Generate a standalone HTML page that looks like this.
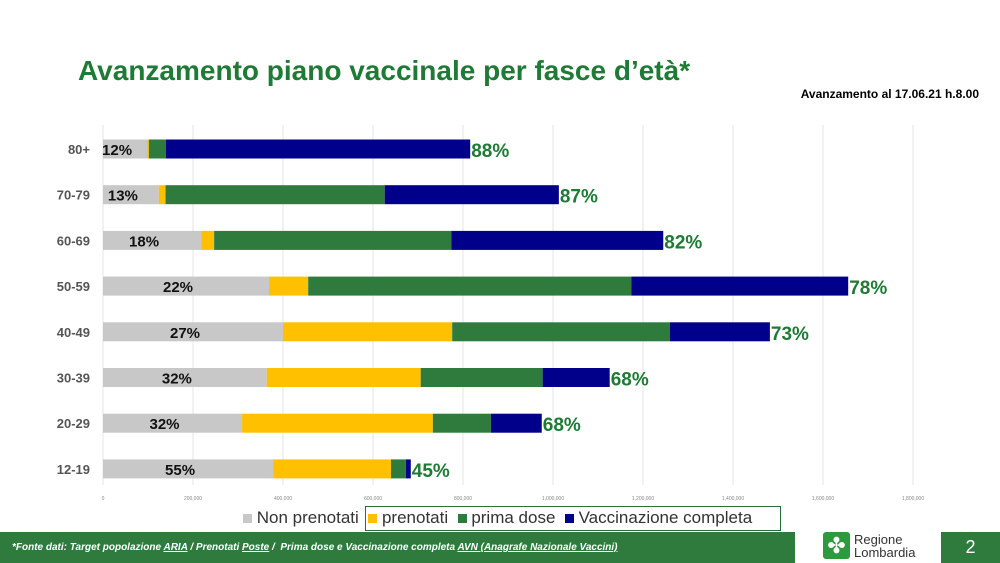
<!DOCTYPE html>
<html><head><meta charset="utf-8"><style>
body{margin:0;width:1000px;height:563px;background:#fff;font-family:"Liberation Sans",sans-serif;position:relative;overflow:hidden}
.a{position:absolute}
</style></head><body>
<div class="a" style="left:78px;top:55px;font-size:28px;font-weight:bold;color:#1e7a34">Avanzamento piano vaccinale per fasce d’età*</div>
<div class="a" style="right:21px;top:87px;font-size:12px;font-weight:bold;color:#000">Avanzamento al 17.06.21 h.8.00</div>
<svg class="a" style="left:0;top:0" width="1000" height="563" id="chart"></svg>
<div class="a" style="left:365px;top:506px;width:414px;height:23px;border:1px solid #2a6e3a"></div>
<div class="a" style="left:243px;top:508px;font-size:17px;color:#333;white-space:nowrap">
<span><span style="display:inline-block;width:9px;height:9px;background:#c8c8c8"></span> Non prenotati</span>&nbsp;
<span><span style="display:inline-block;width:9px;height:9px;background:#ffc000"></span> prenotati</span>&nbsp;
<span><span style="display:inline-block;width:9px;height:9px;background:#2e7b3d"></span> prima dose</span>&nbsp;
<span><span style="display:inline-block;width:9px;height:9px;background:#00008b"></span> Vaccinazione completa</span></div>
<div class="a" style="left:0;top:532px;width:795px;height:31px;background:#2e7b3d"></div>
<div class="a" style="left:12px;top:542px;font-size:10px;font-style:italic;font-weight:bold;color:#fff;white-space:nowrap">*Fonte dati: Target popolazione <u>ARIA</u> / Prenotati <u>Poste</u> /&nbsp; Prima dose e Vaccinazione completa <u>AVN (Anagrafe Nazionale Vaccini)</u></div>
<div class="a" style="left:823px;top:532px;width:27px;height:27px;background:#2e9a3e;border-radius:3px;color:#fff;font-size:22px;text-align:center;line-height:27px">✤</div>
<div class="a" style="left:854px;top:533px;font-size:13px;line-height:13px;color:#333">Regione<br>Lombardia</div>
<div class="a" style="left:941px;top:532px;width:59px;height:31px;background:#2e7b3d;color:#fff;font-size:18px;text-align:center;line-height:31px">2</div>
<script>
const categories=["80+","70-79","60-69","50-59","40-49","30-39","20-29","12-19"];
const nonPrenotati=[98000,124000,218000,369000,400000,364000,309000,378000];
const prenotati=[4000,15000,29000,87000,376000,342000,424000,262000];
const primaDose=[38000,487000,527000,718000,484000,271000,129000,33000];
const completa=[676000,387000,471000,482000,222000,149000,113000,11000];
const leftPct=["12%","13%","18%","22%","27%","32%","32%","55%"];
const rightPct=["88%","87%","82%","78%","73%","68%","68%","45%"];
const ticks=[0,200000,400000,600000,800000,1000000,1200000,1400000,1600000,1800000];
const svg=document.getElementById('chart');const NS='http://www.w3.org/2000/svg';
const x=v=>103+v*90/200000;const y=i=>149+i*45.7;
function mk(t,a){const e=document.createElementNS(NS,t);for(const k in a)e.setAttribute(k,a[k]);svg.appendChild(e);return e;}
ticks.forEach(t=>{const g=mk('line',{x1:x(t),x2:x(t),y1:125,y2:485,stroke:'#e4e4e4'});


const l=mk('text',{x:x(t),y:500,'font-size':5,'text-anchor':'middle',fill:'#888'});l.textContent=t.toLocaleString('en-US');

});
const series=[nonPrenotati,prenotati,primaDose,completa];const cols=['#c8c8c8','#ffc000','#2e7b3d','#00008b'];const names=['non-prenotati','prenotati','prima-dose','completa'];
categories.forEach((c,i)=>{let acc=0;series.forEach((s,j)=>{const r=mk('rect',{x:x(acc),y:y(i)-9.5,width:x(acc+s[i])-x(acc),height:19,fill:cols[j]});

acc+=s[i];});
const cl=mk('text',{x:90,y:y(i)+5,'font-size':13,'font-weight':'bold','text-anchor':'end',fill:'#555'});cl.textContent=c;


const gx=Math.max(116,x(nonPrenotati[i]/2)-8);
const lp=mk('text',{x:gx,y:y(i)+6,'font-size':15,'font-weight':'bold','text-anchor':'middle',fill:'#111'});lp.textContent=leftPct[i];


const rp=mk('text',{x:x(acc)+1,y:y(i)+8,'font-size':19,'font-weight':'bold',fill:'#1e7a34'});rp.textContent=rightPct[i];

});
</script>
</body></html>
